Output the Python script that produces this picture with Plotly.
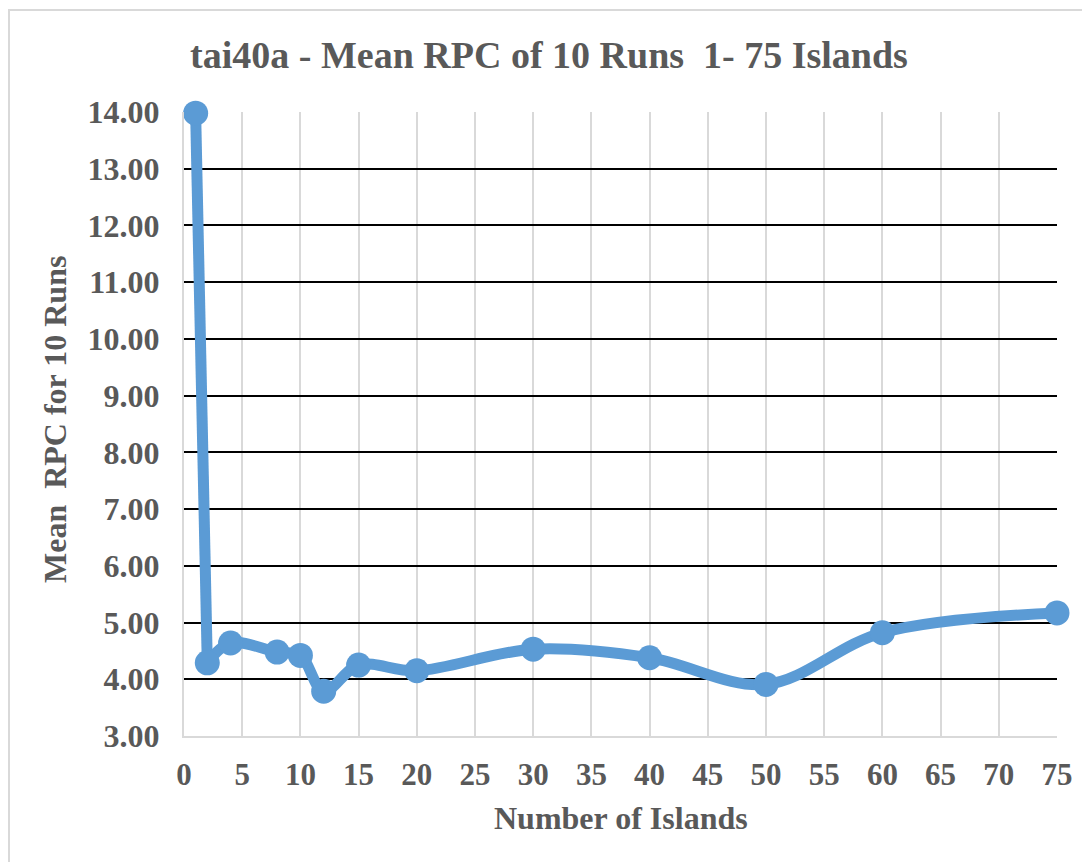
import plotly.graph_objects as go

islands = [1, 2, 4, 8, 10, 12, 15, 20, 30, 40, 50, 60, 75]
mean_rpc = [13.98, 4.29, 4.64, 4.48, 4.42, 3.79, 4.25, 4.15, 4.53, 4.38, 3.91, 4.82, 5.17]

x_ticks = list(range(0, 80, 5))
y_ticks = [3 + i for i in range(12)]

FONT = "Liberation Serif"
GREY = "#595959"
BLUE = "#5B9BD5"

W, H = 1082, 854
L, R, T, B = 176, 33, 104, 126
PW, PH = W - L - R, H - T - B

fig = go.Figure()
# steep first segment drawn straight, remainder smoothed
fig.add_trace(go.Scatter(
    x=islands[:2], y=mean_rpc[:2], mode="lines",
    line=dict(color=BLUE, width=11),
    cliponaxis=False, showlegend=False,
))
fig.add_trace(go.Scatter(
    x=islands[1:], y=mean_rpc[1:], mode="lines",
    line=dict(color=BLUE, width=11, shape="spline", smoothing=1.0),
    cliponaxis=False, showlegend=False,
))
fig.add_trace(go.Scatter(
    x=islands, y=mean_rpc, mode="markers",
    marker=dict(color=BLUE, size=25),
    cliponaxis=False, showlegend=False,
))

top_y = 1 + (T - 2) / PH
left_x = -L / PW

fig.update_layout(
    width=W, height=H,
    paper_bgcolor="white", plot_bgcolor="white",
    margin=dict(l=L, r=R, t=T, b=B),
    title=dict(text="<b>tai40a - Mean RPC of 10 Runs  1- 75 Islands</b>",
               x=0.5, xanchor="center", y=1 - 47 / H, yanchor="middle",
               font=dict(family=FONT, size=38, color=GREY)),
    font=dict(family=FONT, color=GREY),
    shapes=[
        dict(type="line", xref="paper", yref="paper", x0=left_x, x1=1.2,
             y0=top_y, y1=top_y, line=dict(color="#D9D9D9", width=2)),
        dict(type="line", xref="paper", yref="paper", x0=left_x + 1 / PW, x1=left_x + 1 / PW,
             y0=-0.3, y1=top_y, line=dict(color="#D9D9D9", width=2)),
    ],
    annotations=[
        dict(text="<b>Number of Islands</b>", xref="paper", yref="paper",
             x=(613 - L) / PW, y=-(810 - T - PH) / PH, xanchor="center", yanchor="middle",
             showarrow=False, font=dict(family=FONT, size=32, color=GREY)),
        dict(text="<b>Mean  RPC for 10 Runs</b>", xref="paper", yref="paper",
             x=(47 - L) / PW, y=1 - (412 - T) / PH, xanchor="center", yanchor="middle",
             textangle=-90, showarrow=False, font=dict(family=FONT, size=32, color=GREY)),
    ],
)

fig.update_xaxes(
    range=[0, 75], tickvals=x_ticks, ticktext=["<b>%d</b>" % v for v in x_ticks],
    showgrid=True, gridcolor="#D9D9D9", gridwidth=2,
    showline=True, linecolor="#D9D9D9", linewidth=2,
    zeroline=False, ticks="outside", ticklen=10, tickcolor="rgba(0,0,0,0)",
    tickfont=dict(family=FONT, size=31, color=GREY),
)
fig.update_yaxes(
    range=[3, 14], tickvals=y_ticks, ticktext=["<b>%.2f</b>" % v for v in y_ticks],
    showgrid=True, gridcolor="black", gridwidth=2,
    showline=True, linecolor="#D9D9D9", linewidth=2,
    zeroline=False, ticks="outside", ticklen=16, tickcolor="rgba(0,0,0,0)",
    tickfont=dict(family=FONT, size=32, color=GREY),
)

fig.write_html("out.html")
